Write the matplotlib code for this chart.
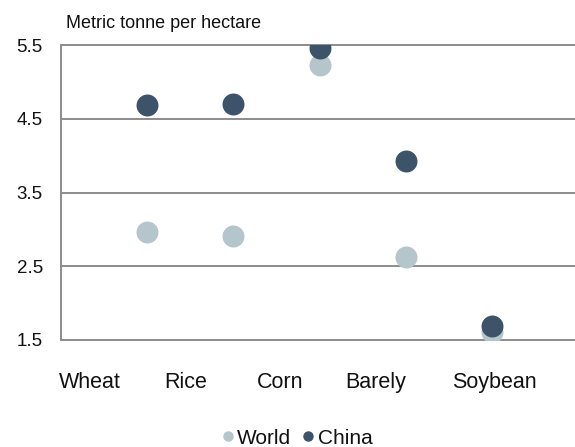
import matplotlib
matplotlib.use("Agg")
import matplotlib.pyplot as plt
from matplotlib.lines import Line2D

plt.rcParams["font.family"] = ["Liberation Sans", "DejaVu Sans"]

# Yield by crop, metric tonnes per hectare
crops = ["Wheat", "Rice", "Corn", "Barely", "Soybean"]
world = [2.96, 2.91, 5.23, 2.63, 1.61]
china = [4.69, 4.70, 5.46, 3.93, 1.69]
yticks = [1.5, 2.5, 3.5, 4.5, 5.5]

# Point positions along x and where the crop names sit under the axis
point_x = [1, 2, 3, 4, 5]
name_x = [0.34, 1.44, 2.54, 3.65, 5.03]

world_color = "#b4c5cb"
china_color = "#3d5369"
grid_color = "#8c8c8c"
text_color = "#111111"

fig = plt.figure(figsize=(5.75, 4.47), dpi=100)
ax = fig.add_axes([61 / 575, 1 - 340 / 447, 1 - 61 / 575, (340 - 45) / 447])

ax.scatter(point_x, world, s=250, color=world_color, zorder=3, linewidths=0)
ax.scatter(point_x, china, s=250, color=china_color, zorder=4, linewidths=0)

ax.set_xlim(0, 5.96)
ax.set_ylim(1.5, 5.5)
ax.set_yticks(yticks)
ax.set_yticklabels([f"{v:.1f}" for v in yticks], fontsize=13.5, color=text_color)
ax.tick_params(axis="y", length=0, pad=13)
ax.set_xticks([])

for y in yticks:
    ax.axhline(y, color=grid_color, lw=1.4, zorder=1, clip_on=False)

for side in ["top", "right", "bottom"]:
    ax.spines[side].set_visible(False)
ax.spines["left"].set_color(grid_color)
ax.spines["left"].set_linewidth(1.4)

for name, x in zip(crops, name_x):
    ax.text(x, -0.145, name, transform=ax.get_xaxis_transform(),
            ha="center", va="center", fontsize=15.5, color=text_color)

fig.text(66 / 575, 1 - 28 / 447, "Metric tonne per hectare",
         ha="left", va="baseline", fontsize=13, color=text_color)

handles = [
    Line2D([], [], marker="o", ls="", color=world_color, markersize=6.5),
    Line2D([], [], marker="o", ls="", color=china_color, markersize=6.5),
]
fig.legend(handles, ["World", "China"], loc="center",
           bbox_to_anchor=(296 / 575, 1 - 438 / 447), ncol=2, frameon=False,
           fontsize=15, handletextpad=0.05, columnspacing=0.4,
           handlelength=0.8, borderaxespad=0, labelcolor=text_color)

fig.savefig("out.png", dpi=100)
